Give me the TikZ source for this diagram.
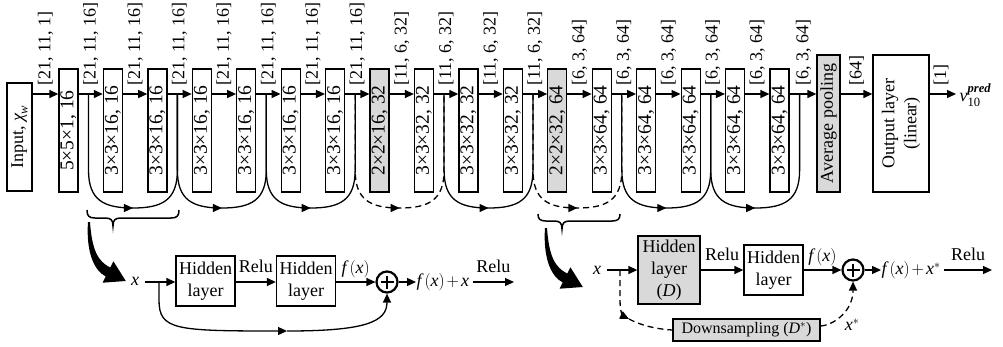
\documentclass[tikz,border=0pt]{standalone}
\usepackage{amsmath}
\usepackage{fontspec}
\setmainfont{Liberation Serif}
\usetikzlibrary{arrows.meta,decorations.markings}
\tikzset{fatarrow/.pic={\fill (0,0) .. controls (-2,28) and (5.2,48.2) .. (17.75,54.45) -- (14.6,60.7) -- (37.8,59) -- (25.4,39.3) -- (22.25,45.55) .. controls (9.7,39.3) and (4,28) .. (2,0) -- cycle;}}
\begin{document}
\begin{tikzpicture}[x=1pt,y=-1pt, line width=1.3pt,
  font=\fontsize{18}{22}\selectfont,
  every node/.style={inner sep=0pt},
  arr/.style={-{Triangle[length=9pt,width=8pt]}},
  lbox/.style={draw, rotate=90, minimum width=123pt, minimum height=19pt, font=\fontsize{19.5}{22}\selectfont},
  gbox/.style={lbox, fill=black!15},
  dimlab/.style={rotate=90, anchor=west},
  hbox/.style={draw, align=center, minimum width=59pt, minimum height=50pt},
  plus/.style={draw, circle, line width=2.2pt, minimum size=21pt},
  skipc/.style={postaction={decorate}, decoration={markings, mark=at position 0.5 with {\arrow{Triangle[length=9pt,width=8pt]}}}},
  dsh/.style={dash pattern=on 6pt off 4pt},
]
\useasboundingbox (0,0) rectangle (1003,346);
\coordinate (yl) at (0,94);
% top row
\node[draw, rotate=90, minimum width=108pt, minimum height=25pt] (In) at (19.5,137) {Input, $\textit{χ}_{\textit{w}}$};
\foreach \i/\txt/\sty in {0/{5×5×1, 16}/lbox, 1/{3×3×16, 16}/lbox, 2/{3×3×16, 16}/lbox, 3/{3×3×16, 16}/lbox,
  4/{3×3×16, 16}/lbox, 5/{3×3×16, 16}/lbox, 6/{3×3×16, 16}/lbox, 7/{2×2×16, 32}/gbox,
  8/{3×3×32, 32}/lbox, 9/{3×3×32, 32}/lbox, 10/{3×3×32, 32}/lbox, 11/{2×2×32, 64}/gbox,
  12/{3×3×64, 64}/lbox, 13/{3×3×64, 64}/lbox, 14/{3×3×64, 64}/lbox, 15/{3×3×64, 64}/lbox, 16/{3×3×64, 64}/lbox}
  \node[\sty] (L\i) at ({68.5+44.44*\i},130.5) {\txt};
\node[gbox, minimum width=137pt, minimum height=23pt, font=\fontsize{18}{22}\selectfont] (AP) at (828.5,123.5) {Average pooling};
\node[draw, rotate=90, align=center, minimum width=137pt, minimum height=56pt] (OL) at (901,123.5) {Output layer\\(linear)};
\node[anchor=west] (vout) at (959,95) {$\textit{v}^{\textit{\textbf{pred}}}_{\textrm{10}}$};
% arrows
\draw[arr] (In.south |- yl) -- (L0.north |- yl);
\foreach \i [evaluate=\i as \j using int(\i+1)] in {0,...,15}
  \draw[arr] (L\i.south |- yl) -- (L\j.north |- yl);
\draw[arr] (L16.south |- yl) -- (AP.north |- yl);
\draw[arr] (AP.south |- yl) -- (OL.north |- yl);
\draw[arr] (OL.south |- yl) -- ([xshift=-3pt]vout.west |- yl);
% dimension labels
\node[dimlab] (d0) at (45.5,86) {[21, 11, 1]};
\foreach \i in {0,...,6} \node[dimlab] (da\i) at ({90.7+44.44*\i},86) {[21, 11, 16]};
\foreach \i in {7,...,10} \node[dimlab] (db\i) at ({90.7+44.44*\i},86) {[11, 6, 32]};
\foreach \i in {11,...,15} \node[dimlab] (dc\i) at ({90.7+44.44*\i},86) {[6, 3, 64]};
\node[dimlab] (dd) at (803.5,86) {[6, 3, 64]};
\node[dimlab] (de) at (856.5,86) {[64]};
\node[dimlab] (df) at (941,86) {[1]};
% skip connections
\foreach \k in {0,...,8} \coordinate (J\k) at ({88.5+88.89*\k},94);
\foreach \k/\st [evaluate=\k as \j using int(\k+1)] in {0/solid,1/solid,2/solid,3/dsh,4/solid,5/dsh,6/solid,7/solid} {
  \pgfmathsetmacro\xa{88.5+88.89*\k}
  \pgfmathsetmacro\xb{\xa+88.89}
  \pgfmathsetmacro\xm{\xa+44.445}
  \draw[skipc,\st] (J\k) -- (\xa,170) .. controls (\xa,200) and (\xa+15,208) .. (\xm,208) .. controls (\xb-15,208) and (\xb,200) .. (\xb,170) -- (J\j);
}
% braces
\draw[line width=1.5pt] (87,210) .. controls (87,216) and (89,218) .. (95,218) -- (105,218) .. controls (111,218) and (113,220) .. (113,226) .. controls (113,220) and (115,218) .. (121,218) -- (171,218) .. controls (177,218) and (179,216) .. (179,210);
\draw[line width=1.5pt] (538,214) .. controls (538,219) and (540,221) .. (546,221) -- (554,221) .. controls (560,221) and (562,223) .. (562,229) .. controls (562,223) and (564,221) .. (570,221) -- (612,221) .. controls (618,221) and (620,219) .. (620,214);
% fat arrows
\begin{scope}[shift={(88,222)}] \pic {fatarrow}; \end{scope}
\begin{scope}[shift={(545,228)}, yscale=0.76] \pic {fatarrow}; \end{scope}
% bottom left block
\node (x1) at (135,281) {\textit{x}};
\coordinate (sa) at (159,282);
\node[hbox] (H1) at (205.5,281) {Hidden\\layer};
\node[hbox] (H2) at (306,281) {Hidden\\layer};
\node[plus] (P1) at (387,282) {};
\draw[line width=2.6pt] ([yshift=-6.5pt]P1.center) -- ([yshift=6.5pt]P1.center) ([xshift=-6.5pt]P1.center) -- ([xshift=6.5pt]P1.center);
\node[anchor=west] (fx1) at (416,282) {$\textit{f}\,(\textit{x})\mkern2mu{+}\mkern2mu\textit{x}$};
\coordinate (e1) at (514,282);
\draw[arr] ([xshift=5pt]x1.east |- sa) -- (H1.west |- sa);
\draw[arr] (H1.east |- sa) -- node[above=9pt] (r1) {Relu} (H2.west |- sa);
\draw[arr] (H2.east |- sa) -- node[above=4pt] (f1) {$\textit{f}\,(\textit{x})$} (P1.west);
\draw[arr] (P1.east) -- (fx1.west);
\draw[arr] ([xshift=3pt]fx1.east) -- node[above=9pt] (r2) {Relu} (e1);
\coordinate (m1) at (287,331);
\draw[arr] (sa) -- (159,300) .. controls (159,330) and (175,331) .. (m1);
\draw[arr] (m1) .. controls (365,331) and (387,322) .. (P1.south);
% bottom right block
\node (x2) at (597,270) {\textit{x}};
\coordinate (sb) at (620,270);
\node[hbox, fill=black!15, minimum width=62pt, minimum height=68pt] (HD) at (669,270) {Hidden\\layer\\(\textit{D})};
\node[hbox] (H4) at (773.5,270) {Hidden\\layer};
\node[plus] (P2) at (853,270) {};
\draw[line width=2.6pt] ([yshift=-6.5pt]P2.center) -- ([yshift=6.5pt]P2.center) ([xshift=-6.5pt]P2.center) -- ([xshift=6.5pt]P2.center);
\node[anchor=west] (fx2) at (881,270) {$\textit{f}\,(\textit{x})\mkern2mu{+}\mkern2mu\textit{x}^{*}$};
\coordinate (e2) at (992,270);
\draw[arr] ([xshift=5pt]x2.east |- sb) -- (HD.west |- sb);
\draw[arr] (HD.east |- sb) -- node[above=9pt] (r3) {Relu} (H4.west |- sb);
\draw[arr] (H4.east |- sb) -- node[above=4pt] (f2) {$\textit{f}\,(\textit{x})$} (P2.west);
\draw[arr] (P2.east) -- (fx2.west);
\draw[arr] ([xshift=3pt]fx2.east) -- node[above=9pt] (r4) {Relu} (e2);
\node[draw, fill=black!15, minimum width=147pt, minimum height=22pt, font=\fontsize{16}{19}\selectfont] (DS) at (746.5,330) {Downsampling ($\textit{D}^{*}$)};
\coordinate (m2) at (629,319);
\draw[arr, dsh] (sb) -- (620,300) .. controls (620,312) and (623,316) .. (m2);
\draw[dsh] (m2) .. controls (640,325) and (655,329) .. (DS.west);
\draw[arr, dsh] ([yshift=4pt]DS.east) .. controls (834,325) and (853,311) .. (P2.south);
\node (xs) at (852,325) {$\textit{x}^{*}$};
\end{tikzpicture}
\end{document}
